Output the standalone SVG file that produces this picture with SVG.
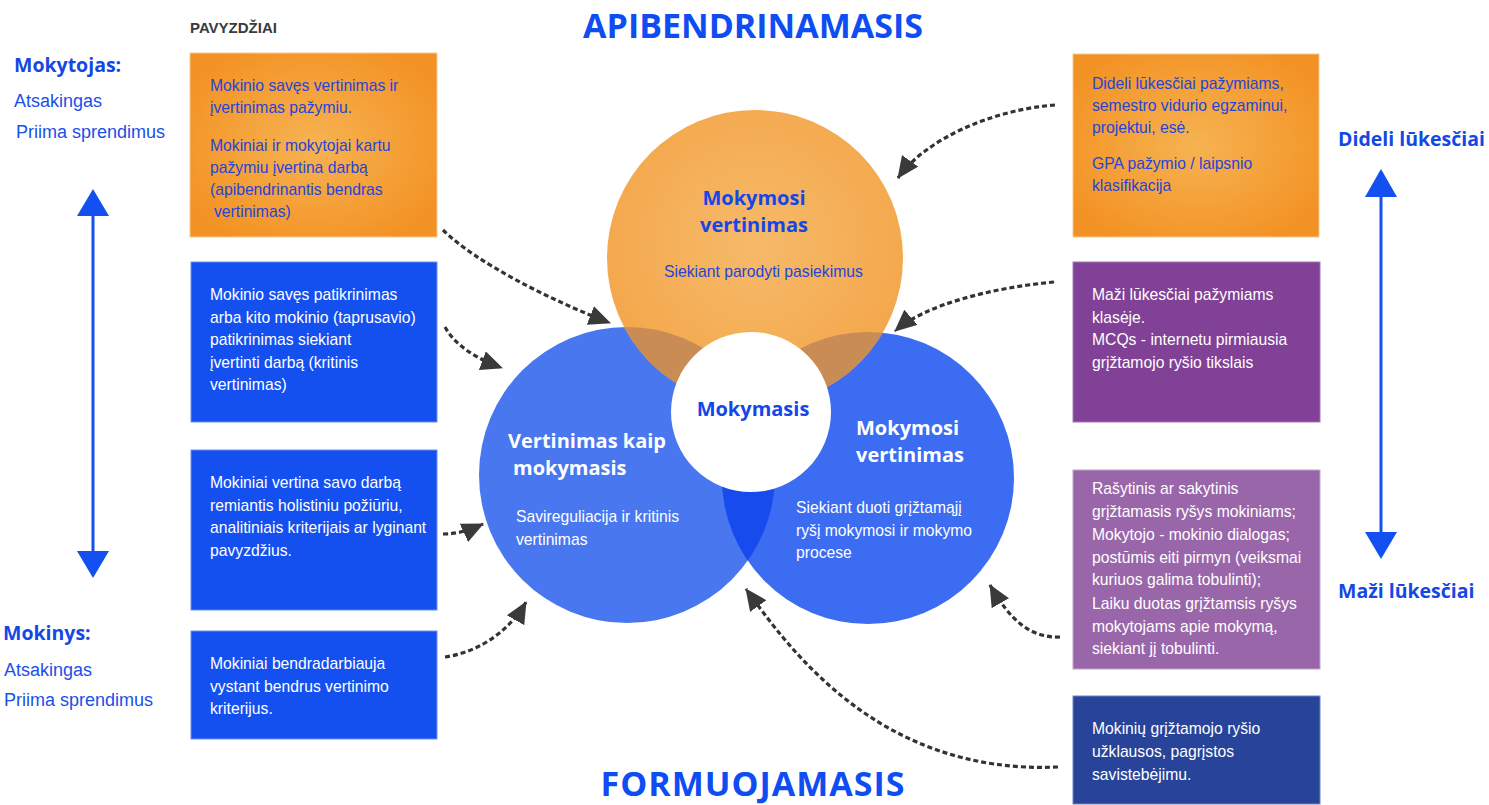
<svg xmlns="http://www.w3.org/2000/svg" width="1489" height="805" viewBox="0 0 1489 805">
<defs>
<style>
.t{font-family:"Liberation Sans",Arial,sans-serif;font-size:15.7px}
.tb{fill:#2644D8}
.tw{fill:#ffffff}
.h{font-family:"Open Sans","DejaVu Sans",sans-serif;font-weight:bold}
.lab{font-family:"Liberation Sans",Arial,sans-serif;font-size:18px;fill:#1A4FEA}
.conn{fill:none;stroke:#333;stroke-width:3.2;stroke-dasharray:5 3}
.bl{fill:#1450F0;stroke:#6E8FF6;stroke-width:1}
.ax{stroke:#1450F0;stroke-width:3;fill:none}
</style>
<radialGradient id="gOr" cx="0.5" cy="0.5" r="0.6">
<stop offset="0" stop-color="#F6B352"/>
<stop offset="1" stop-color="#F39224"/>
</radialGradient>
<radialGradient id="gCo" cx="0.5" cy="0.45" r="0.55">
<stop offset="0" stop-color="#F6BA6A"/>
<stop offset="1" stop-color="#F4A74B"/>
</radialGradient>
<clipPath id="cL"><circle cx="627" cy="475" r="148"/></clipPath>
<clipPath id="cR"><circle cx="868" cy="478" r="146"/></clipPath>
<marker id="ah" markerUnits="userSpaceOnUse" viewBox="0 0 22 20" markerWidth="22" markerHeight="20" refX="21" refY="10" orient="auto">
<path d="M0,0 L22,10 L0,20 z" fill="#3a3a3a"/>
</marker>
</defs>
<rect width="1489" height="805" fill="#ffffff"/>

<!-- titles -->
<text class="h" x="753" y="38" font-size="34" fill="#0E4DF2" text-anchor="middle">APIBENDRINAMASIS</text>
<text class="h" x="753" y="796" font-size="34" letter-spacing="1" fill="#0E4DF2" text-anchor="middle">FORMUOJAMASIS</text>

<!-- left side labels -->
<g id="left-labels">
<text class="h" x="14" y="72" font-size="19.5" fill="#1448E6">Mokytojas:</text>
<text class="lab" x="14" y="107">Atsakingas</text>
<text class="lab" x="16" y="138">Priima sprendimus</text>
<text class="h" x="3" y="640" font-size="19.5" fill="#1448E6">Mokinys:</text>
<text class="lab" x="4" y="676">Atsakingas</text>
<text class="lab" x="4" y="706">Priima sprendimus</text>
<text x="190" y="33" font-family="Liberation Sans, Arial, sans-serif" font-size="15" font-weight="bold" fill="#3a3a3a">PAVYZDŽIAI</text>
</g>
<g id="left-axis">
<line class="ax" x1="93" y1="212" x2="93" y2="553"/>
<path d="M93,189 L109,216 L77,216 z" fill="#1450F0"/>
<path d="M93,578 L109,551 L77,551 z" fill="#1450F0"/>
</g>

<!-- right side labels -->
<g id="right-labels">
<text class="h" x="1338" y="146" font-size="19.5" fill="#1448E6">Dideli lūkesčiai</text>
<text class="h" x="1338" y="598" font-size="19.5" fill="#1448E6">Maži lūkesčiai</text>
</g>
<g id="right-axis">
<line class="ax" x1="1381" y1="193" x2="1381" y2="535"/>
<path d="M1381,169 L1397,197 L1365,197 z" fill="#1450F0"/>
<path d="M1381,559 L1397,532 L1365,532 z" fill="#1450F0"/>
</g>

<!-- left boxes -->
<g id="box1">
<rect x="190" y="53" width="247" height="184" fill="url(#gOr)" stroke="#F8C890" stroke-width="1"/>
<text class="t tb"><tspan x="210" y="91">Mokinio savęs vertinimas ir</tspan><tspan x="210" y="113">įvertinimas pažymiu.</tspan><tspan x="210" y="151">Mokiniai ir mokytojai kartu</tspan><tspan x="210" y="173">pažymiu įvertina darbą</tspan><tspan x="210" y="195">(apibendrinantis bendras</tspan><tspan x="214" y="217">vertinimas)</tspan></text>
</g>
<g id="box2">
<rect class="bl" x="191" y="262" width="246" height="160"/>
<text class="t tw"><tspan x="210" y="300">Mokinio savęs patikrinimas</tspan><tspan x="210" y="323">arba kito mokinio (taprusavio)</tspan><tspan x="210" y="345">patikrinimas siekiant</tspan><tspan x="210" y="368">įvertinti darbą (kritinis</tspan><tspan x="210" y="390">vertinimas)</tspan></text>
</g>
<g id="box3">
<rect class="bl" x="191" y="450" width="246" height="160"/>
<text class="t tw"><tspan x="210" y="488">Mokiniai vertina savo darbą</tspan><tspan x="210" y="511">remiantis holistiniu požiūriu,</tspan><tspan x="210" y="533">analitiniais kriterijais ar lyginant</tspan><tspan x="210" y="556">pavyzdžius.</tspan></text>
</g>
<g id="box4">
<rect class="bl" x="191" y="631" width="246" height="108"/>
<text class="t tw"><tspan x="210" y="669">Mokiniai bendradarbiauja</tspan><tspan x="210" y="692">vystant bendrus vertinimo</tspan><tspan x="210" y="714">kriterijus.</tspan></text>
</g>

<!-- right boxes -->
<g id="box5">
<rect x="1073" y="54" width="246" height="183" fill="url(#gOr)" stroke="#F8C890" stroke-width="1"/>
<text class="t tb"><tspan x="1092" y="89">Dideli lūkesčiai pažymiams,</tspan><tspan x="1092" y="111">semestro vidurio egzaminui,</tspan><tspan x="1092" y="133">projektui, esė.</tspan><tspan x="1092" y="169">GPA pažymio / laipsnio</tspan><tspan x="1092" y="191">klasifikacija</tspan></text>
</g>
<g id="box6">
<rect x="1073" y="262" width="247" height="160" fill="#804196" stroke="#A57AB8" stroke-width="1"/>
<text class="t tw"><tspan x="1092" y="300">Maži lūkesčiai pažymiams</tspan><tspan x="1092" y="323">klasėje.</tspan><tspan x="1092" y="345">MCQs - internetu pirmiausia</tspan><tspan x="1092" y="368">grįžtamojo ryšio tikslais</tspan></text>
</g>
<g id="box7">
<rect x="1073" y="470" width="247" height="199" fill="#9966AA" stroke="#C0A3CC" stroke-width="1"/>
<text class="t tw"><tspan x="1092" y="494">Rašytinis ar sakytinis</tspan><tspan x="1092" y="517">grįžtamasis ryšys mokiniams;</tspan><tspan x="1092" y="540">Mokytojo - mokinio dialogas;</tspan><tspan x="1092" y="563">postūmis eiti pirmyn (veiksmai</tspan><tspan x="1092" y="585">kuriuos galima tobulinti);</tspan><tspan x="1092" y="609">Laiku duotas grįžtamsis ryšys</tspan><tspan x="1092" y="632">mokytojams apie mokymą,</tspan><tspan x="1092" y="654">siekiant jį tobulinti.</tspan></text>
</g>
<g id="box8">
<rect x="1073" y="696" width="247" height="108" fill="#27449A" stroke="#6F86C4" stroke-width="1"/>
<text class="t tw"><tspan x="1092" y="734">Mokinių grįžtamojo ryšio</tspan><tspan x="1092" y="757">užklausos, pagrįstos</tspan><tspan x="1092" y="780">savistebėjimu.</tspan></text>
</g>

<!-- circles -->
<g id="circle-left">
<circle cx="627" cy="475" r="148" fill="#4877EF"/>
</g>
<g id="circle-right">
<circle cx="868" cy="478" r="146" fill="#3C6CF1"/>
<circle cx="627" cy="475" r="148" fill="#184BEE" clip-path="url(#cR)"/>
</g>
<g id="circle-top">
<circle cx="755" cy="258" r="148" fill="url(#gCo)"/>
<circle cx="755" cy="258" r="148" fill="#C98C55" clip-path="url(#cL)"/>
<circle cx="755" cy="258" r="148" fill="#C98C55" clip-path="url(#cR)"/>
</g>
<g id="circle-center">
<circle cx="751" cy="412" r="80" fill="#ffffff"/>
<text class="h" x="753" y="416" font-size="20" fill="#1446E8" text-anchor="middle">Mokymasis</text>
</g>
<g id="labels-top">
<text class="h" x="754" y="205" font-size="20" fill="#1446E8" text-anchor="middle">Mokymosi</text>
<text class="h" x="754" y="232" font-size="20" fill="#1446E8" text-anchor="middle">vertinimas</text>
<text class="t tb" x="664" y="277">Siekiant parodyti pasiekimus</text>
</g>
<g id="labels-left">
<text class="h" x="508" y="448" font-size="20" fill="#ffffff">Vertinimas kaip</text>
<text class="h" x="513" y="475" font-size="20" fill="#ffffff">mokymasis</text>
<text class="t tw"><tspan x="516" y="522">Savireguliacija ir kritinis</tspan><tspan x="516" y="545">vertinimas</tspan></text>
</g>
<g id="labels-right">
<text class="h" x="856" y="435" font-size="20" fill="#ffffff">Mokymosi</text>
<text class="h" x="856" y="462" font-size="20" fill="#ffffff">vertinimas</text>
<text class="t tw"><tspan x="796" y="513">Siekiant duoti grįžtamąjį</tspan><tspan x="796" y="536">ryšį mokymosi ir mokymo</tspan><tspan x="796" y="558">procese</tspan></text>
</g>

<!-- connectors -->
<g id="connectors">
<path class="conn" d="M443,230 C475,262 550,300 610,323" marker-end="url(#ah)"/>
<path class="conn" d="M445,327 C455,345 475,358 502,368" marker-end="url(#ah)"/>
<path class="conn" d="M443,534 C458,534 470,530 483,524" marker-end="url(#ah)"/>
<path class="conn" d="M445,657 C480,652 510,630 526,602" marker-end="url(#ah)"/>
<path class="conn" d="M1055,105 C990,110 925,140 898,178" marker-end="url(#ah)"/>
<path class="conn" d="M1054,282 C990,288 925,305 895,331" marker-end="url(#ah)"/>
<path class="conn" d="M1060,637 C1030,638 1010,620 990,585" marker-end="url(#ah)"/>
<path class="conn" d="M1058,767 C880,775 790,650 746,589" marker-end="url(#ah)"/>
</g>
</svg>
